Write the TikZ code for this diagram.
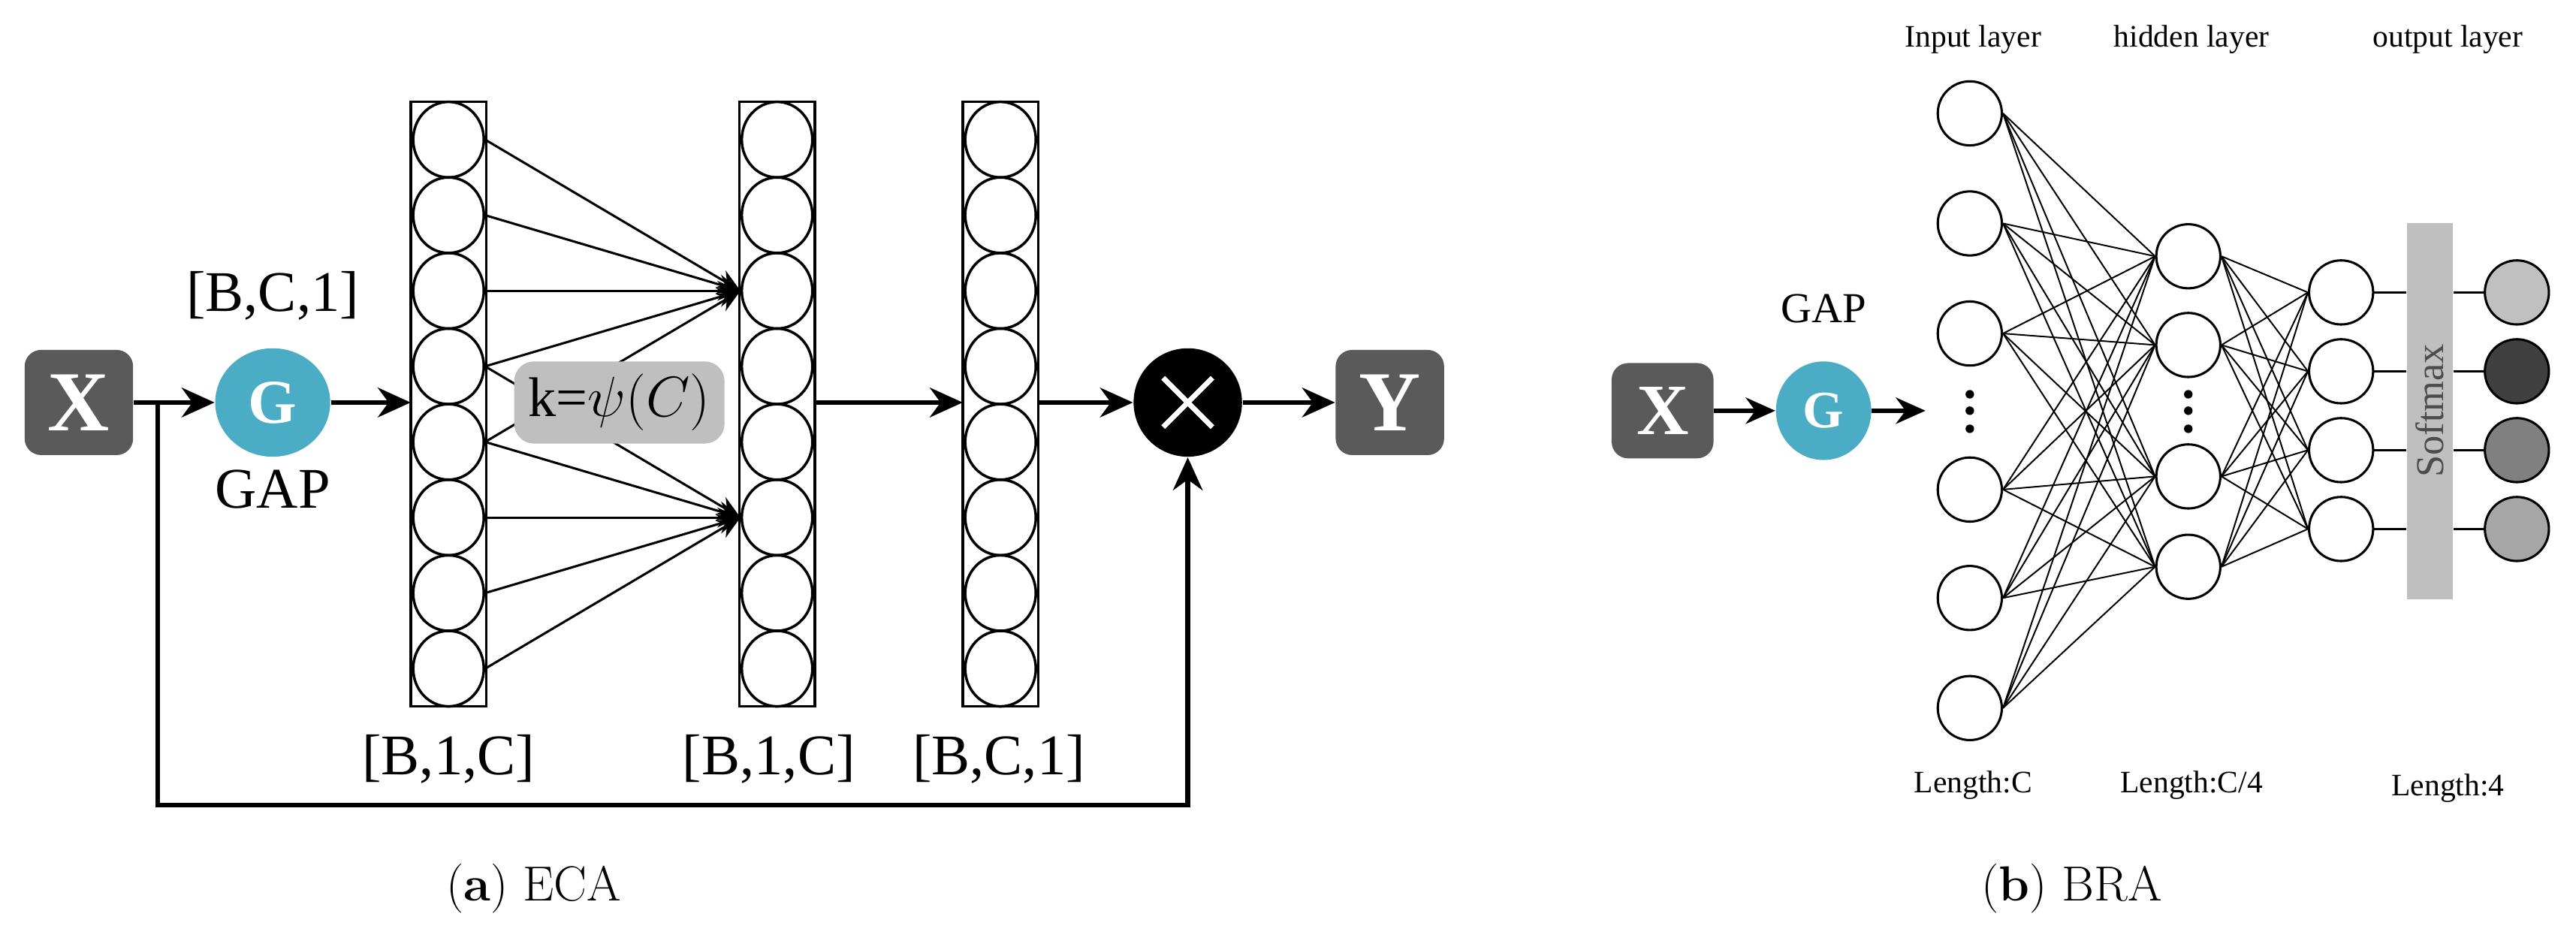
\documentclass[tikz,border=0pt]{standalone}
\usepackage{fontspec}
\setmainfont{Liberation Serif}
\newfontfamily\capfont{Latin Modern Roman}
\usetikzlibrary{arrows.meta,shapes.geometric,calc}
\definecolor{boxgray}{HTML}{5A5A5A}
\definecolor{gblue}{HTML}{4BACC6}
\definecolor{lgray}{HTML}{BFBFBF}
\begin{document}
\begin{tikzpicture}[x=0.5pt,y=-0.5pt,
  tbox/.style={fill=boxgray,rounded corners=5pt,minimum width=33pt,minimum height=32pt,text=white,font=\fontsize{26}{26}\selectfont\bfseries,inner sep=0},
  gnode/.style={ellipse,fill=gblue,text=white,font=\fontsize{19}{19}\selectfont\bfseries,inner sep=0},
  lbl/.style={font=\fontsize{17.5}{18}\selectfont},
  sml/.style={font=\fontsize{9.5}{11}\selectfont},
  cell/.style={ellipse,draw,line width=0.8pt,inner sep=0},
  ncell/.style={circle,draw,line width=0.7pt,minimum size=19.5pt,inner sep=0},
  thick arr/.style={line width=1.5pt,-{Stealth[length=10pt,width=9pt]}},
  fan/.style={line width=0.7pt,-{Stealth[length=7pt,width=6pt]}},
  net/.style={line width=0.45pt}]
\useasboundingbox (0,0) rectangle (1568,567);
% ---------- (a) ECA ----------
\node[tbox] (X) at (48,245) {X};
\node[gnode,minimum width=35pt,minimum height=33pt] (G) at (166,245) {G};
\node[lbl] (bc1) at (166,180) {[B,C,1]};
\node[lbl] (gap) at (166,298) {GAP};
\foreach \c/\x in {1/273,2/473,3/609}{
  \draw[line width=0.8pt] (\x-23,62) rectangle (\x+23,430);
  \foreach \i in {0,...,7}{
    \node[cell,minimum height=23pt,minimum width=21.5pt] (c\c-\i) at (\x,{62+23+46*\i}) {};
  }
}
\foreach \i in {0,...,4}{\draw[fan] (c1-\i.east) -- (c2-2.west);}
\foreach \i in {3,...,7}{\draw[fan] (c1-\i.east) -- (c2-5.west);}
\node[fill=lgray,rounded corners=6pt,minimum width=64pt,minimum height=25pt,inner sep=0,font=\fontsize{17}{17}\selectfont] (k) at (377,245) {k=$\psi(C)$};
\node[circle,fill=black,minimum size=33pt,inner sep=0] (M) at (723,245) {};
\draw[white,line width=1.6pt] ($(M)+(-15,-15)$) -- ($(M)+(15,15)$) ($(M)+(-15,15)$) -- ($(M)+(15,-15)$);
\node[tbox] (Y) at (846,245) {Y};
\coordinate (c1in) at (250,245);
\coordinate (c2out) at (496,245);
\coordinate (c3in) at (586,245);
\coordinate (c3out) at (632,245);
\draw[thick arr] (X.east) -- (G.west);
\draw[thick arr] (G.east) -- (c1in);
\draw[thick arr] (c2out) -- (c3in);
\draw[thick arr] (c3out) -- (M.west);
\draw[thick arr] (M.east) -- (Y.west);
\coordinate (br) at (96,245);
\draw[thick arr] (br) -- (96,490) -- (723,490) -- (M.south);
\node[lbl] (l1) at (273,462) {[B,1,C]};
\node[lbl] (l2) at (468,462) {[B,1,C]};
\node[lbl] (l3) at (608,462) {[B,C,1]};
\node[font=\capfont\fontsize{15}{15}\selectfont] (capa) at (325,541) {(\textbf{a}) ECA};
% ---------- (b) BRA ----------
\node[tbox,minimum width=31pt,minimum height=29pt,font=\fontsize{22}{22}\selectfont\bfseries] (X2) at (1012,250) {X};
\node[gnode,minimum width=29pt,minimum height=30pt,font=\fontsize{16}{16}\selectfont\bfseries] (G2) at (1110,250) {G};
\node[font=\fontsize{13}{13}\selectfont] (gap2) at (1110,188) {GAP};
\coordinate (n2in) at (1172,250);
\draw[line width=1.3pt,-{Stealth[length=9pt,width=8pt]}] (X2.east) -- (G2.west);
\draw[line width=1.3pt,-{Stealth[length=9pt,width=8pt]}] (G2.east) -- (n2in);
\foreach \i/\y in {1/69,2/136,3/203,4/298,5/364,6/431}{\node[ncell] (i\i) at (1199,\y) {};}
\foreach \i/\y in {1/156,2/210,3/290,4/345}{\node[ncell] (h\i) at (1332,\y) {};}
\foreach \i/\y in {1/178,2/226,3/274,4/322}{\node[ncell] (o\i) at (1425,\y) {};}
\foreach \y in {240,250,261}{\fill (1199,\y) circle (1.3pt); \fill (1332,\y) circle (1.3pt);}
\foreach \a in {1,...,6}{\foreach \b in {1,...,4}{\draw[net] (i\a.east) -- (h\b.west);}}
\foreach \a in {1,...,4}{\foreach \b in {1,...,4}{\draw[net] (h\a.east) -- (o\b.west);}}
\node[fill=lgray,minimum width=14pt,minimum height=114.5pt,inner sep=0] (sm) at (1479,250.5) {};
\node[rotate=90,font=\fontsize{12}{12}\selectfont,text=black!70] (smt) at (1479,250) {Softmax};
\foreach \i/\y/\c in {1/178/C0C0C0,2/226/404040,3/274/808080,4/322/A6A6A6}{
  \definecolor{fc\i}{HTML}{\c}
  \node[ncell,fill=fc\i] (f\i) at (1532,\y) {};
  \draw[line width=0.8pt] (o\i.east) -- (sm.west |- o\i);
  \draw[line width=0.8pt] (sm.east |- f\i) -- (f\i.west);
}
\node[sml] (t1) at (1201,24) {Input layer};
\node[sml] (t2) at (1334,24) {hidden layer};
\node[sml] (t3) at (1490,24) {output layer};
\node[sml] (b1) at (1201,478) {Length:C};
\node[sml] (b2) at (1334,478) {Length:C/4};
\node[sml] (b3) at (1490,480) {Length:4};
\node[font=\capfont\fontsize{15}{15}\selectfont] (capb) at (1261,541) {(\textbf{b}) BRA};
\end{tikzpicture}
\end{document}
